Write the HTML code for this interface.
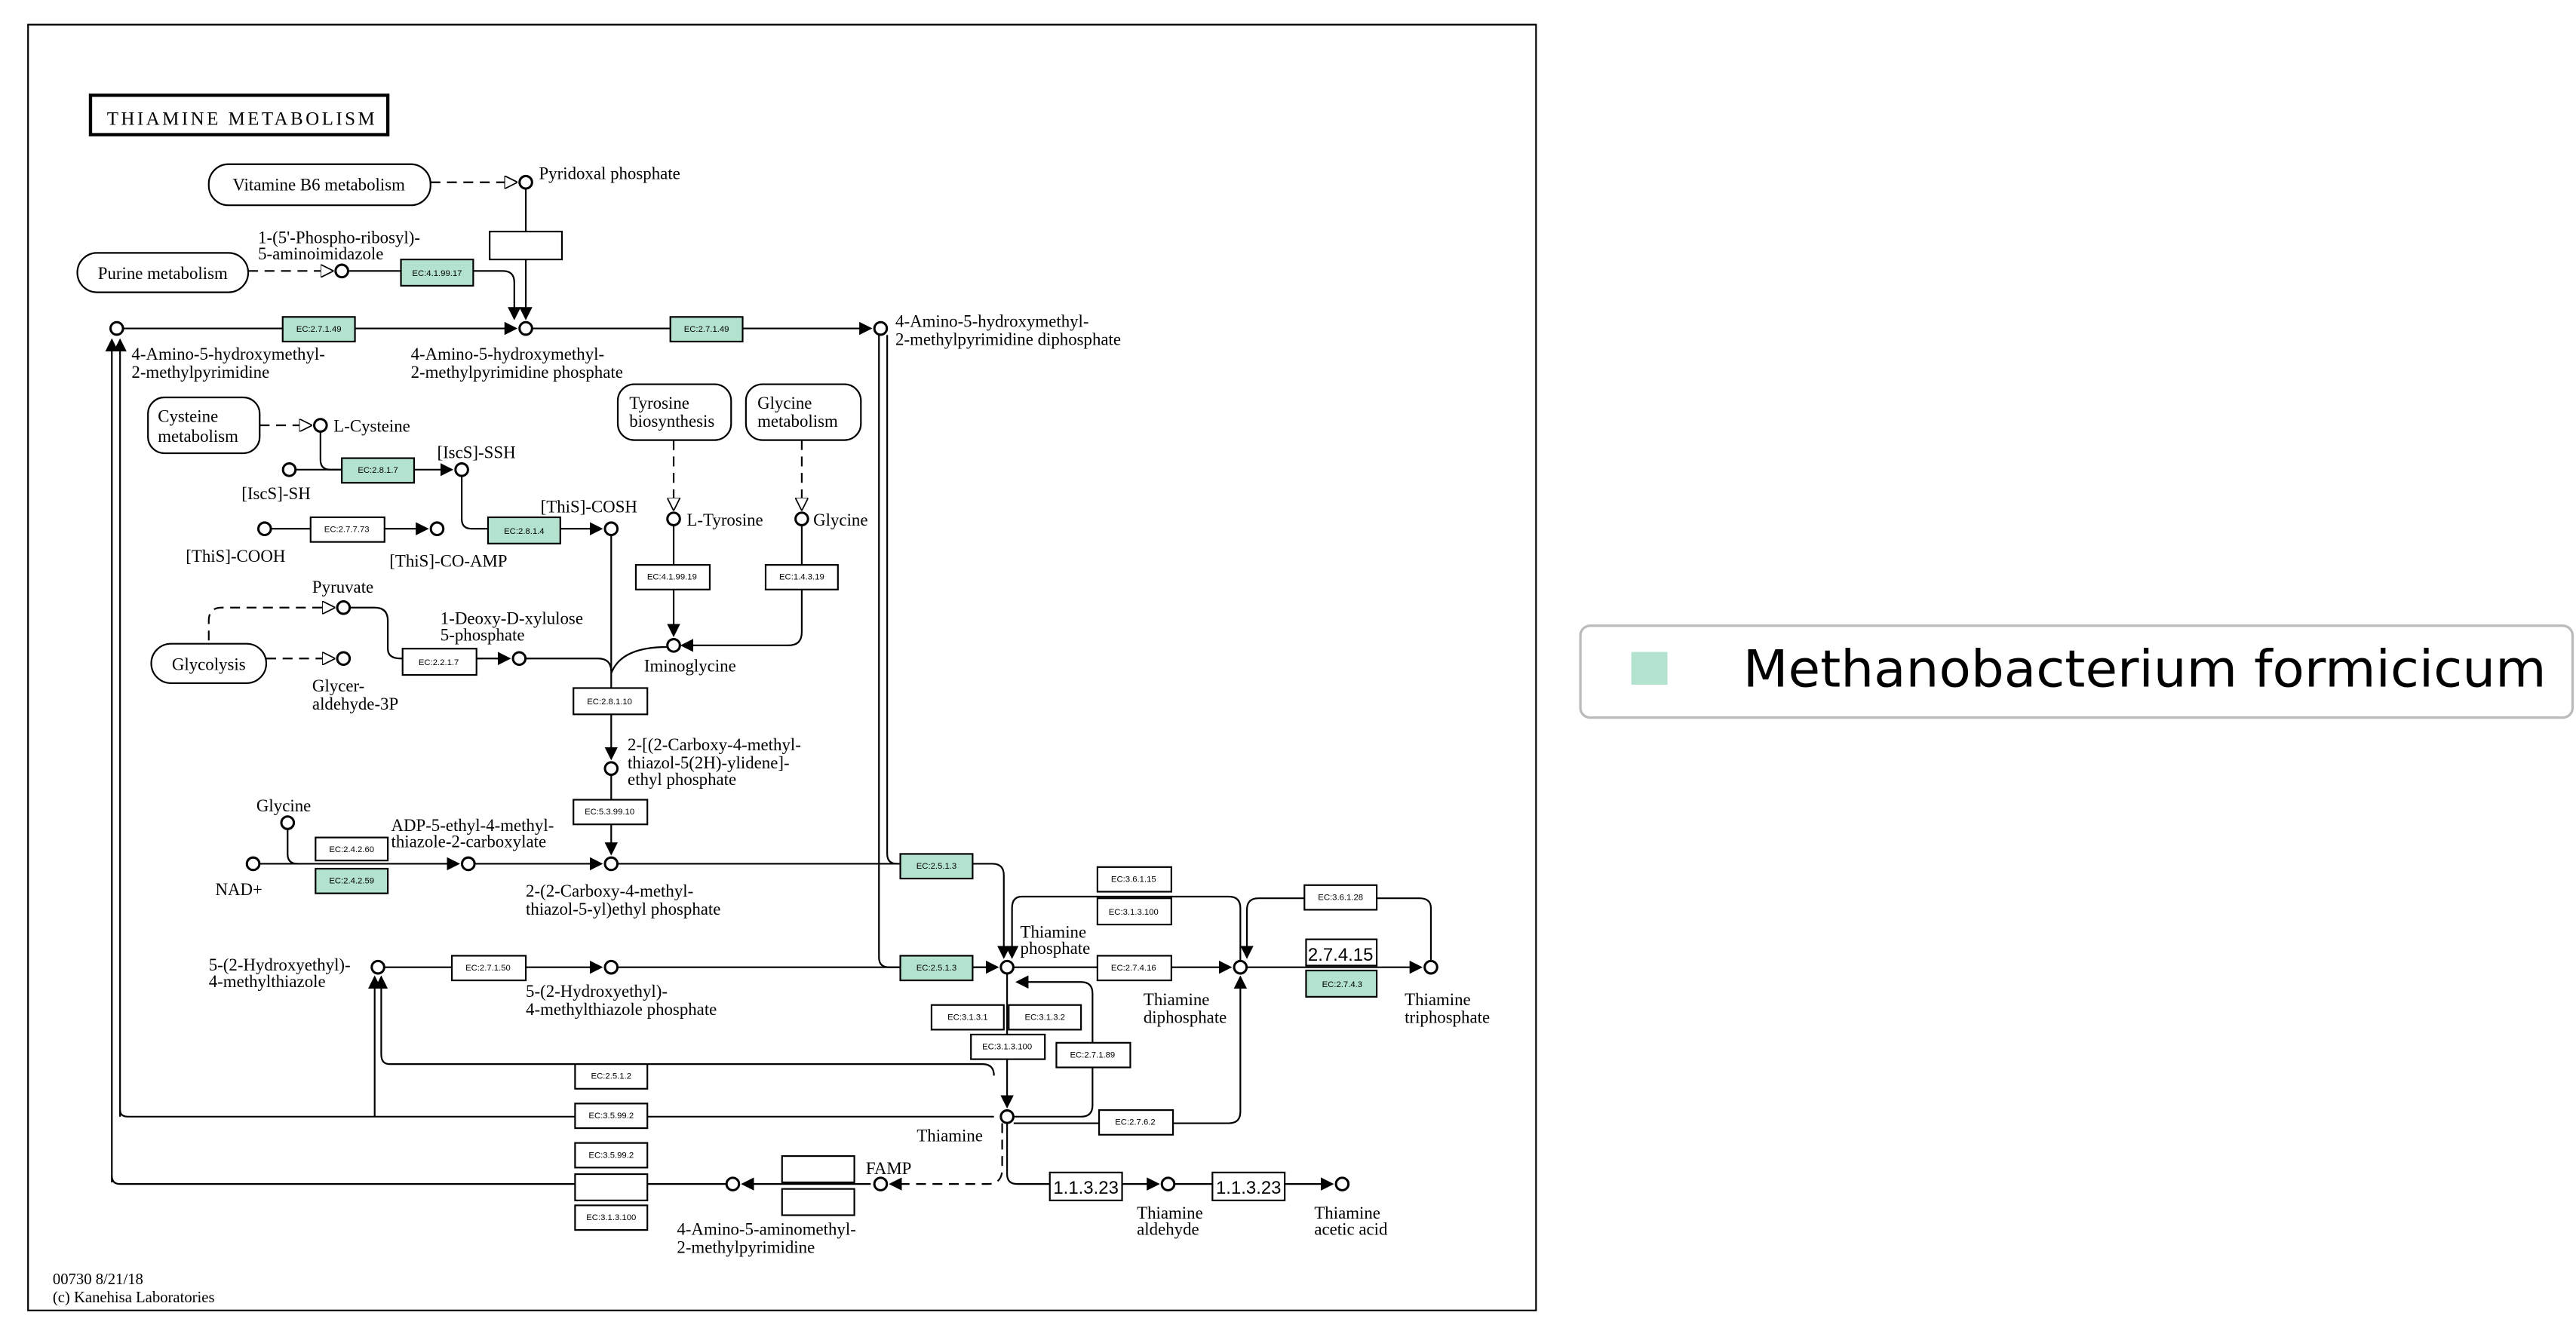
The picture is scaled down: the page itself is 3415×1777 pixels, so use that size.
<!DOCTYPE html>
<html><head><meta charset="utf-8"><style>
html,body{margin:0;padding:0;background:#fff;}
svg{display:block}
.l{font-family:"Liberation Serif",serif;font-size:10.5px;fill:#000}
.e{font-family:"Liberation Sans",sans-serif;font-size:5.2px;fill:#000;text-anchor:middle}
.g{fill:#b3e3cf}
.w{fill:#fff}
.ln{stroke:#000;stroke-width:1;fill:none}
.d{stroke:#000;stroke-width:1;fill:none;stroke-dasharray:6,4}
circle{fill:#fff;stroke:#000;stroke-width:1.4}
</style></head><body>
<svg width="3415" height="1777" viewBox="0 0 1568 816" xmlns="http://www.w3.org/2000/svg">
<defs>
<marker id="a" markerWidth="8" markerHeight="8" refX="7" refY="4" orient="auto" markerUnits="userSpaceOnUse"><path d="M0,0 L8,4 L0,8z" fill="#000"/></marker>
<marker id="o" markerWidth="8" markerHeight="8" refX="7" refY="4" orient="auto" markerUnits="userSpaceOnUse"><path d="M0,0 L8,4 L0,8z" fill="#fff" stroke="#000" stroke-width="0.8"/></marker>
</defs>
<rect x="17" y="15" width="918" height="783" fill="#fff" stroke="#000" stroke-width="1"/>
<rect x="55" y="58" width="181" height="24" fill="#fff" stroke="#000" stroke-width="2"/>
<text x="65" y="76" class="l" style="font-size:11.5px" textLength="163" lengthAdjust="spacing">THIAMINE METABOLISM</text>

<g fill="#fff" stroke="#000" stroke-width="1">
<rect x="127" y="100" width="135" height="25" rx="12"/>
<rect x="47" y="154" width="104" height="24" rx="12"/>
<rect x="90" y="242" width="68" height="34" rx="10"/>
<rect x="376" y="234" width="69" height="34" rx="10"/>
<rect x="454" y="234" width="70" height="34" rx="10"/>
<rect x="92" y="392" width="70" height="24" rx="12"/>
</g>
<text x="194" y="116" class="l" text-anchor="middle">Vitamine B6 metabolism</text>
<text x="99" y="170" class="l" text-anchor="middle">Purine metabolism</text>
<text x="96" y="257" class="l">Cysteine</text><text x="96" y="269" class="l">metabolism</text>
<text x="383" y="249" class="l">Tyrosine</text><text x="383" y="260" class="l">biosynthesis</text>
<text x="461" y="249" class="l">Glycine</text><text x="461" y="260" class="l">metabolism</text>
<text x="127" y="408" class="l" text-anchor="middle">Glycolysis</text>

<path class="d" d="M262,111 H314" marker-end="url(#o)"/>
<path class="d" d="M151,165 H202" marker-end="url(#o)"/>
<path class="d" d="M158,259 H189" marker-end="url(#o)"/>
<path class="d" d="M410,268 V310" marker-end="url(#o)"/>
<path class="d" d="M488,268 V310" marker-end="url(#o)"/>
<path class="d" d="M162,401 H203" marker-end="url(#o)"/>
<path class="d" d="M127,390 V378 Q127,370 135,370 H203" marker-end="url(#o)"/>
<path class="d" d="M610,684 V712 Q610,721 601,721 H542" marker-end="url(#a)"/>

<g class="ln">
<path d="M320,115 V194" marker-end="url(#a)"/>
<path d="M212,165 H306 Q313,165 313,172 V194" marker-end="url(#a)"/>
<path d="M75,200 H314" marker-end="url(#a)"/>
<path d="M324,200 H530" marker-end="url(#a)"/>
<path d="M68,720 V207" marker-end="url(#a)"/>
<path d="M73,680 V207" marker-end="url(#a)"/>
<path d="M68,716 Q68,721 73,721 H442"/>
<path d="M73,676 Q73,680 78,680 H605"/>
<path d="M535,204 V583 Q535,589 541,589 H607" marker-end="url(#a)"/>
<path d="M540,204 V520 Q540,526 546,526"/>
<path d="M195,263 V280 Q195,286 201,286 H275" marker-end="url(#a)"/>
<path d="M180,286 H208"/>
<path d="M281,290 V316 Q281,322 287,322 H366" marker-end="url(#a)"/>
<path d="M165,322 H260" marker-end="url(#a)"/>
<path d="M410,320 V387" marker-end="url(#a)"/>
<path d="M488,320 V385 Q488,393 480,393 H415" marker-end="url(#a)"/>
<path d="M213,370 H228 Q236,370 236,378 V395 Q236,401 244,401 H310" marker-end="url(#a)"/>
<path d="M320,401 H364 Q372,401 372,409"/>
<path d="M372,326 V462" marker-end="url(#a)"/>
<path d="M406,394 Q378,394 372,410"/>
<path d="M372,472 V520" marker-end="url(#a)"/>
<path d="M158,526 H279" marker-end="url(#a)"/>
<path d="M175,505 V520 Q175,526 181,526"/>
<path d="M289,526 H366" marker-end="url(#a)"/>
<path d="M376,526 H604 Q611,526 611,533 V583" marker-end="url(#a)"/>
<path d="M234,589 H366" marker-end="url(#a)"/>
<path d="M376,589 H607" marker-end="url(#a)"/>
<path d="M617,589 H749" marker-end="url(#a)"/>
<path d="M759,589 H865" marker-end="url(#a)"/>
<path d="M755,585 V553 Q755,546 748,546 H622 Q616,546 616,553 V583" marker-end="url(#a)"/>
<path d="M871,585 V553 Q871,547 864,547 H766 Q759,547 759,554 V583" marker-end="url(#a)"/>
<path d="M613,593 V674" marker-end="url(#a)"/>
<path d="M617,680 H658 Q665,680 665,673 V605 Q665,598 658,598 H619" marker-end="url(#a)"/>
<path d="M617,684 H748 Q755,684 755,677 V595" marker-end="url(#a)"/>
<path d="M605,655 Q605,648 598,648 H237 Q232,648 232,642 V595" marker-end="url(#a)"/>
<path d="M228,680 V595" marker-end="url(#a)"/>
<path d="M613,684 V715 Q613,721 619,721 H705" marker-end="url(#a)"/>
<path d="M715,721 H811" marker-end="url(#a)"/>
<path d="M530,721 H452" marker-end="url(#a)"/>
</g>

<g stroke="#000" stroke-width="1">
<rect x="298" y="141" width="44" height="17" class="w"/>
<rect x="244" y="158" width="44" height="16" class="g"/>
<rect x="172" y="193" width="44" height="15" class="g"/>
<rect x="408" y="193" width="44" height="15" class="g"/>
<rect x="208" y="279" width="44" height="15" class="g"/>
<rect x="189" y="315" width="45" height="15" class="w"/>
<rect x="297" y="315" width="44" height="16" class="g"/>
<rect x="387" y="344" width="45" height="15" class="w"/>
<rect x="466" y="344" width="44" height="15" class="w"/>
<rect x="245" y="395" width="45" height="16" class="w"/>
<rect x="349" y="419" width="45" height="16" class="w"/>
<rect x="349" y="487" width="45" height="15" class="w"/>
<rect x="192" y="510" width="44" height="14" class="w"/>
<rect x="192" y="529" width="44" height="15" class="g"/>
<rect x="548" y="520" width="44" height="15" class="g"/>
<rect x="275" y="582" width="45" height="15" class="w"/>
<rect x="548" y="582" width="44" height="15" class="g"/>
<rect x="668" y="528" width="45" height="15" class="w"/>
<rect x="668" y="547" width="45" height="16" class="w"/>
<rect x="668" y="582" width="45" height="15" class="w"/>
<rect x="794" y="539" width="44" height="15" class="w"/>
<rect x="795" y="572" width="43" height="16" class="w"/>
<rect x="795" y="591" width="43" height="16" class="g"/>
<rect x="567" y="612" width="44" height="15" class="w"/>
<rect x="614" y="612" width="44" height="15" class="w"/>
<rect x="591" y="630" width="45" height="15" class="w"/>
<rect x="643" y="635" width="45" height="15" class="w"/>
<rect x="669" y="676" width="45" height="15" class="w"/>
<rect x="350" y="648" width="44" height="15" class="w"/>
<rect x="350" y="672" width="44" height="15" class="w"/>
<rect x="350" y="696" width="44" height="15" class="w"/>
<rect x="350" y="715" width="44" height="16" class="w"/>
<rect x="350" y="734" width="44" height="15" class="w"/>
<rect x="476" y="704" width="44" height="16" class="w"/>
<rect x="476" y="724" width="44" height="16" class="w"/>
<rect x="639" y="714" width="44" height="17" class="w"/>
<rect x="738" y="714" width="44" height="17" class="w"/>
</g>
<g class="e">
<text x="266" y="168">EC:4.1.99.17</text>
<text x="194" y="202">EC:2.7.1.49</text>
<text x="430" y="202">EC:2.7.1.49</text>
<text x="230" y="288">EC:2.8.1.7</text>
<text x="211" y="324">EC:2.7.7.73</text>
<text x="319" y="325">EC:2.8.1.4</text>
<text x="409" y="353">EC:4.1.99.19</text>
<text x="488" y="353">EC:1.4.3.19</text>
<text x="267" y="405">EC:2.2.1.7</text>
<text x="371" y="429">EC:2.8.1.10</text>
<text x="371" y="496">EC:5.3.99.10</text>
<text x="214" y="519">EC:2.4.2.60</text>
<text x="214" y="538">EC:2.4.2.59</text>
<text x="570" y="529">EC:2.5.1.3</text>
<text x="297" y="591">EC:2.7.1.50</text>
<text x="570" y="591">EC:2.5.1.3</text>
<text x="690" y="537">EC:3.6.1.15</text>
<text x="690" y="557">EC:3.1.3.100</text>
<text x="690" y="591">EC:2.7.4.16</text>
<text x="816" y="548">EC:3.6.1.28</text>
<text x="817" y="601">EC:2.7.4.3</text>
<text x="589" y="621">EC:3.1.3.1</text>
<text x="636" y="621">EC:3.1.3.2</text>
<text x="613" y="639">EC:3.1.3.100</text>
<text x="665" y="644">EC:2.7.1.89</text>
<text x="691" y="685">EC:2.7.6.2</text>
<text x="372" y="657">EC:2.5.1.2</text>
<text x="372" y="681">EC:3.5.99.2</text>
<text x="372" y="705">EC:3.5.99.2</text>
<text x="372" y="743">EC:3.1.3.100</text>
</g>
<text x="816" y="585" text-anchor="middle" style="font-family:'Liberation Sans',sans-serif;font-size:11px">2.7.4.15</text>
<text x="661" y="727" text-anchor="middle" style="font-family:'Liberation Sans',sans-serif;font-size:11px">1.1.3.23</text>
<text x="760" y="727" text-anchor="middle" style="font-family:'Liberation Sans',sans-serif;font-size:11px">1.1.3.23</text>

<g>
<circle cx="320" cy="111" r="3.8"/><circle cx="208" cy="165" r="3.8"/>
<circle cx="71" cy="200" r="3.8"/><circle cx="320" cy="200" r="3.8"/><circle cx="536" cy="200" r="3.8"/>
<circle cx="195" cy="259" r="3.8"/><circle cx="176" cy="286" r="3.8"/><circle cx="281" cy="286" r="3.8"/>
<circle cx="161" cy="322" r="3.8"/><circle cx="266" cy="322" r="3.8"/><circle cx="372" cy="322" r="3.8"/>
<circle cx="410" cy="316" r="3.8"/><circle cx="488" cy="316" r="3.8"/><circle cx="410" cy="393" r="3.8"/>
<circle cx="209" cy="370" r="3.8"/><circle cx="209" cy="401" r="3.8"/><circle cx="316" cy="401" r="3.8"/>
<circle cx="372" cy="468" r="3.8"/><circle cx="175" cy="501" r="3.8"/><circle cx="154" cy="526" r="3.8"/>
<circle cx="285" cy="526" r="3.8"/><circle cx="372" cy="526" r="3.8"/>
<circle cx="230" cy="589" r="3.8"/><circle cx="372" cy="589" r="3.8"/><circle cx="613" cy="589" r="3.8"/>
<circle cx="755" cy="589" r="3.8"/><circle cx="871" cy="589" r="3.8"/><circle cx="613" cy="680" r="3.8"/>
<circle cx="446" cy="721" r="3.8"/><circle cx="536" cy="721" r="3.8"/><circle cx="711" cy="721" r="3.8"/><circle cx="817" cy="721" r="3.8"/>
</g>

<g class="l">
<text x="328" y="109">Pyridoxal phosphate</text>
<text x="157" y="148">1-(5'-Phospho-ribosyl)-</text><text x="157" y="158">5-aminoimidazole</text>
<text x="80" y="219">4-Amino-5-hydroxymethyl-</text><text x="80" y="230">2-methylpyrimidine</text>
<text x="250" y="219">4-Amino-5-hydroxymethyl-</text><text x="250" y="230">2-methylpyrimidine phosphate</text>
<text x="545" y="199">4-Amino-5-hydroxymethyl-</text><text x="545" y="210">2-methylpyrimidine diphosphate</text>
<text x="203" y="263">L-Cysteine</text>
<text x="266" y="279">[IscS]-SSH</text>
<text x="147" y="304">[IscS]-SH</text>
<text x="329" y="312">[ThiS]-COSH</text>
<text x="113" y="342">[ThiS]-COOH</text>
<text x="237" y="345">[ThiS]-CO-AMP</text>
<text x="418" y="320">L-Tyrosine</text>
<text x="495" y="320">Glycine</text>
<text x="392" y="409">Iminoglycine</text>
<text x="190" y="361">Pyruvate</text>
<text x="268" y="380">1-Deoxy-D-xylulose</text><text x="268" y="390">5-phosphate</text>
<text x="190" y="421">Glycer-</text><text x="190" y="432">aldehyde-3P</text>
<text x="382" y="457">2-[(2-Carboxy-4-methyl-</text><text x="382" y="468">thiazol-5(2H)-ylidene]-</text><text x="382" y="478">ethyl phosphate</text>
<text x="156" y="494">Glycine</text>
<text x="238" y="506">ADP-5-ethyl-4-methyl-</text><text x="238" y="516">thiazole-2-carboxylate</text>
<text x="131" y="545">NAD+</text>
<text x="320" y="546">2-(2-Carboxy-4-methyl-</text><text x="320" y="557">thiazol-5-yl)ethyl phosphate</text>
<text x="127" y="591">5-(2-Hydroxyethyl)-</text><text x="127" y="601">4-methylthiazole</text>
<text x="320" y="607">5-(2-Hydroxyethyl)-</text><text x="320" y="618">4-methylthiazole phosphate</text>
<text x="621" y="571">Thiamine</text><text x="621" y="581">phosphate</text>
<text x="696" y="612">Thiamine</text><text x="696" y="623">diphosphate</text>
<text x="855" y="612">Thiamine</text><text x="855" y="623">triphosphate</text>
<text x="558" y="695">Thiamine</text>
<text x="527" y="715">FAMP</text>
<text x="412" y="752">4-Amino-5-aminomethyl-</text><text x="412" y="763">2-methylpyrimidine</text>
<text x="692" y="742">Thiamine</text><text x="692" y="752">aldehyde</text>
<text x="800" y="742">Thiamine</text><text x="800" y="752">acetic acid</text>
<text x="32" y="782" style="font-size:9.5px">00730 8/21/18</text>
<text x="32" y="793" style="font-size:9.5px">(c) Kanehisa Laboratories</text>
</g>

<rect x="962" y="381" width="604" height="56" rx="6" fill="#fff" stroke="#bbb" stroke-width="1.5"/>
<rect x="993" y="397" width="22" height="20" fill="#b3e3cf"/>
<text x="1061" y="418" style="font-family:'DejaVu Sans',sans-serif;font-size:31px" fill="#000" textLength="489" lengthAdjust="spacingAndGlyphs">Methanobacterium formicicum</text>
</svg>
</body></html>
